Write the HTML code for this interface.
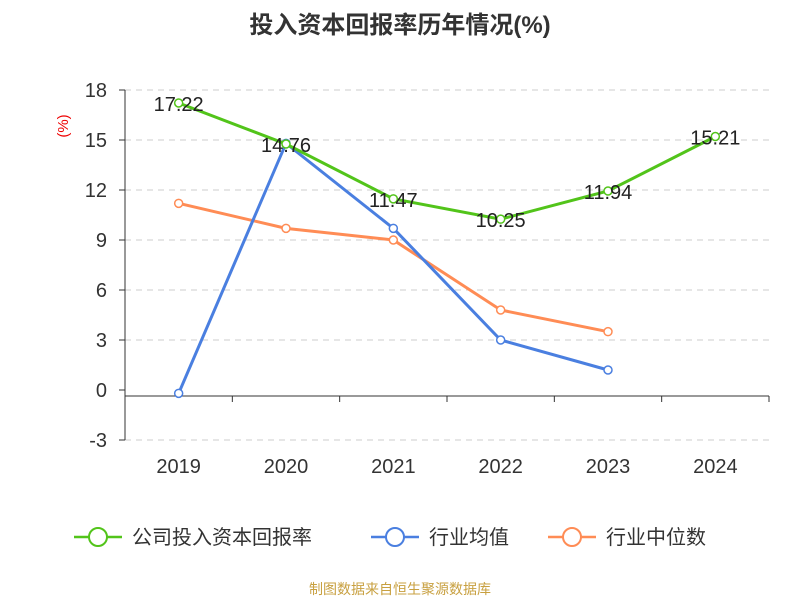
<!DOCTYPE html>
<html><head><meta charset="utf-8"><style>
body{margin:0;background:#fff;font-family:"Liberation Sans","Noto Sans CJK SC",sans-serif}
</style></head><body>
<svg width="800" height="600" xmlns="http://www.w3.org/2000/svg" font-family="Liberation Sans, Noto Sans CJK SC, sans-serif">
<text x="400" y="33" text-anchor="middle" font-size="24" font-weight="bold" fill="#333">投入资本回报率历年情况(%)</text>
<text transform="translate(68,126) rotate(-90)" text-anchor="middle" font-size="15" fill="#e00">(%)</text>
<g id="grid"></g><g id="series"></g>
<g font-size="20" fill="#333">
<g><line x1="74" y1="537" x2="122" y2="537" stroke="#52c41a" stroke-width="2.5"/><circle cx="98" cy="537" r="9" fill="#fff" stroke="#52c41a" stroke-width="2"/><text x="132" y="544">公司投入资本回报率</text></g>
<g><line x1="371" y1="537" x2="419" y2="537" stroke="#4a7fe0" stroke-width="2.5"/><circle cx="395" cy="537" r="9" fill="#fff" stroke="#4a7fe0" stroke-width="2"/><text x="429" y="544">行业均值</text></g>
<g><line x1="548" y1="537" x2="596" y2="537" stroke="#ff8c55" stroke-width="2.5"/><circle cx="572" cy="537" r="9" fill="#fff" stroke="#ff8c55" stroke-width="2"/><text x="606" y="544">行业中位数</text></g>
</g>
<text x="400" y="594" text-anchor="middle" font-size="14" fill="#c8a040">制图数据来自恒生聚源数据库</text>
</svg>
<script>
const categories=["2019","2020","2021","2022","2023","2024"];
const yTicks=[-3,0,3,6,9,12,15,18];
const company=[17.22,14.76,11.47,10.25,11.94,15.21];
const industryMean=[-0.2,14.8,9.7,3.0,1.2,null];
const industryMedian=[11.2,9.7,9.0,4.8,3.5,null];
const NS="http://www.w3.org/2000/svg";
const x0=125,x1=769,yTop=90,yBot=440,vMin=-3,vMax=18;
const bw=(x1-x0)/categories.length;
const xs=i=>x0+bw*(i+0.5);
const ys=v=>yBot-(v-vMin)/(vMax-vMin)*(yBot-yTop);
function mk(tag,attrs,parent){const e=document.createElementNS(NS,tag);for(const k in attrs)e.setAttribute(k,attrs[k]);parent.appendChild(e);return e;}
const grid=document.getElementById('grid');
yTicks.forEach(t=>{
 if(t!==0){const l=mk('line',{x1:x0,x2:x1,y1:ys(t),y2:ys(t),stroke:'#ccc','stroke-dasharray':'6,5'},grid);
 
 }
 const tx=mk('text',{x:x0-18,y:ys(t)+7,'text-anchor':'end','font-size':20,fill:'#333'},grid);tx.textContent=t;
 
 
 mk('line',{x1:x0-6,x2:x0,y1:ys(t),y2:ys(t),stroke:'#333'},grid);
});
const ya=mk('line',{x1:x0,x2:x0,y1:yTop,y2:yBot,stroke:'#333'},grid);


const xa=mk('line',{x1:x0,x2:x1,y1:ys(0)+6,y2:ys(0)+6,stroke:'#333'},grid);


for(let i=0;i<=categories.length;i++)mk('line',{x1:x0+bw*i,x2:x0+bw*i,y1:ys(0)+6,y2:ys(0)+12,stroke:'#333'},grid);
categories.forEach((c,i)=>{const t=mk('text',{x:xs(i),y:473,'text-anchor':'middle','font-size':20,fill:'#333'},grid);t.textContent=c;
 
 });
const sg=document.getElementById('series');
function draw(data,color,name,labels){
 const pts=data.map((v,i)=>v==null?null:[xs(i),ys(v)]).filter(p=>p);
 const pl=mk('polyline',{points:pts.map(p=>p.join(',')).join(' '),fill:'none',stroke:color,'stroke-width':3},sg);
 
 
 data.forEach((v,i)=>{if(v==null)return;
  const c=mk('circle',{cx:xs(i),cy:ys(v),r:4,fill:'#fff',stroke:color,'stroke-width':1.5},sg);
  
  
  if(labels){const t=mk('text',{x:xs(i),y:ys(v)+8,'text-anchor':'middle','font-size':20,fill:'#222'},sg);t.textContent=v.toFixed(2);
   
   }
 });
}
draw(industryMedian,'#ff8c55','industry-median',false);
draw(industryMean,'#4a7fe0','industry-mean',false);
draw(company,'#52c41a','company-roic',true);
</script>
</body></html>
